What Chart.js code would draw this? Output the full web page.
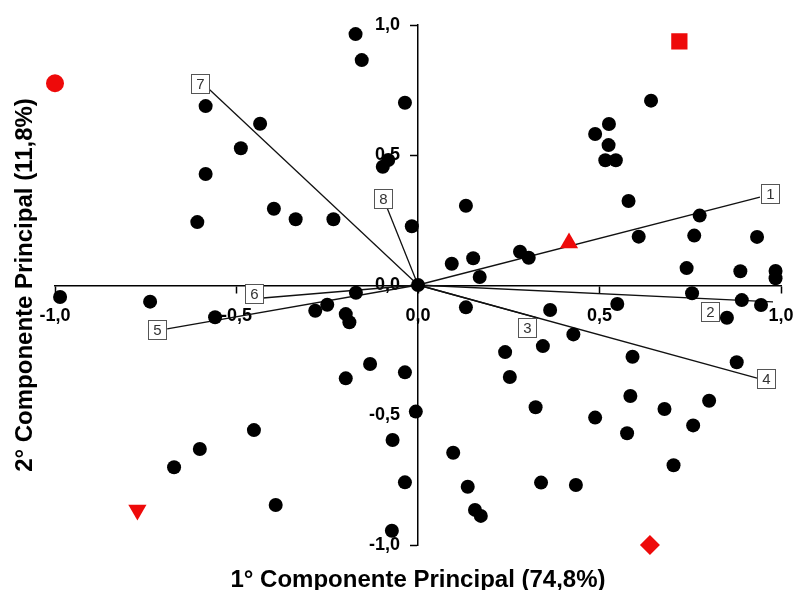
<!DOCTYPE html>
<html>
  <head>
    <title>Componentes Principais</title>
    <script src="https://cdn.jsdelivr.net/npm/chart.js"></script>
    <style>
      body { margin: 0; background: #fff; }
    </style>
  </head>
  <body>
    <canvas id="myChart" width="795" height="590"></canvas>
    <script>
      // scores of the observations (black dots)
      const scoreX = [
        -0.172, -0.155, -0.585, -0.435, -0.488, -0.585, -0.608, -0.397, -0.337, -0.233,
        -0.097, -0.082, -0.036, -0.017, -0.171, -0.986, -0.738,
        0.642, 0.526, 0.488, 0.525, 0.516, 0.545, 0.580, 0.776, 0.608, 0.761, 0.934,
        0.132, 0.093, 0.152, 0.170, 0.281, 0.305, 0.740, 0.888, 0.985, 0.985,
        0.755, 0.892, 0.945, 0.549, 0.851, 0.132, 0.364, 0.428, 0.344, 0.240, 0.253,
        0.591, 0.878, 0.324, 0.488, 0.585, 0.576, 0.679, 0.758, 0.802, 0.704,
        0.097, 0.137, 0.157, 0.173, 0.339, 0.435, -0.036, -0.006, -0.036,
        -0.559, -0.283, -0.250, -0.199, -0.189, -0.132, -0.199, -0.452, -0.601, -0.672,
        -0.392, -0.070, -0.072, 0.0
      ];
      const scoreY = [
        0.965, 0.865, 0.688, 0.620, 0.526, 0.427, 0.242, 0.293, 0.253, 0.253,
        0.455, 0.481, 0.701, 0.226, -0.030, -0.046, -0.064,
        0.709, 0.619, 0.581, 0.538, 0.480, 0.480, 0.323, 0.267, 0.186, 0.190, 0.185,
        0.305, 0.082, 0.103, 0.031, 0.128, 0.105, 0.065, 0.053, 0.054, 0.026,
        -0.032, -0.058, -0.077, -0.073, -0.126, -0.086, -0.096, -0.190, -0.235, -0.258, -0.354,
        -0.276, -0.297, -0.470, -0.510, -0.427, -0.570, -0.477, -0.540, -0.445, -0.693,
        -0.645, -0.776, -0.865, -0.888, -0.760, -0.769, -0.336, -0.487, -0.759,
        -0.124, -0.099, -0.076, -0.112, -0.143, -0.304, -0.359, -0.558, -0.631, -0.701,
        -0.846, -0.596, -0.945, 0.0
      ];

      // red group markers
      const groupX = [-1.0, 0.72, 0.416, -0.773, 0.639];
      const groupY = [0.776, 0.937, 0.162, -0.865, -1.0];
      const groupShapes = ["circle", "rect", "triangle", "triangle", "rectRot"];

      // variable vectors
      const vectorLabels = ["1", "2", "3", "4", "5", "6", "7", "8"];
      const vectorX = [0.942, 0.978, 0.331, 0.934, -0.691, -0.427, -0.579, -0.085];
      const vectorY = [0.338, -0.065, -0.127, -0.358, -0.169, -0.05, 0.758, 0.296];

      const tickValues = [-1, -0.5, 0, 0.5, 1];
      const xTitle = "1° Componente Principal (74,8%)";
      const yTitle = "2° Componente Principal (11,8%)";

      // where each numbered box sits relative to the end of its vector (px)
      const boxOffsets = [[10, -3], [-63, 10], [-11, 10], [9, 1], [-10, 1], [-9, -4], [-8, -4], [-4, -9]];

      const FONT = "'Liberation Sans', Arial, sans-serif";
      Chart.defaults.font.family = FONT;
      Chart.defaults.color = "#000";

      const fmt = (v) => v.toFixed(1).replace(".", ",");

      const axisTitles = {
        id: "axisTitles",
        afterDraw(chart) {
          const { ctx, scales } = chart;
          ctx.save();
          ctx.fillStyle = "#000";
          ctx.font = "bold 24px " + FONT;
          ctx.textAlign = "center";
          ctx.textBaseline = "alphabetic";
          ctx.fillText(xTitle, scales.x.getPixelForValue(0), 587);
          ctx.translate(32, scales.y.getPixelForValue(0));
          ctx.rotate(-Math.PI / 2);
          ctx.fillText(yTitle, 0, 0);
          ctx.restore();
        },
      };

      const vectorBoxes = {
        id: "vectorBoxes",
        afterDatasetsDraw(chart) {
          const { ctx, scales } = chart;
          ctx.save();
          ctx.font = "15px " + FONT;
          ctx.textAlign = "center";
          ctx.textBaseline = "middle";
          vectorLabels.forEach((lab, i) => {
            const cx = Math.round(scales.x.getPixelForValue(vectorX[i]) + boxOffsets[i][0]);
            const cy = Math.round(scales.y.getPixelForValue(vectorY[i]) + boxOffsets[i][1]);
            ctx.fillStyle = "#fff";
            ctx.fillRect(cx - 9, cy - 10, 19, 20);
            ctx.strokeStyle = "#555";
            ctx.lineWidth = 1;
            ctx.strokeRect(cx - 9 + 0.5, cy - 10 + 0.5, 18, 19);
            ctx.fillStyle = "#333";
            ctx.fillText(lab, cx + 0.5, cy + 1);
          });
          ctx.restore();
        },
      };

      const dots = scoreX.map((v, i) => ({ x: v, y: scoreY[i] }));
      const groups = groupX.map((v, i) => ({ x: v, y: groupY[i] }));

      const vectorSets = vectorLabels.map((lab, i) => ({
        label: "Variável " + lab,
        data: [{ x: 0, y: 0 }, { x: vectorX[i], y: vectorY[i] }],
        showLine: true,
        borderColor: "#111",
        borderWidth: 1.3,
        pointRadius: 0,
        clip: false,
      }));

      // keep the axis labels from shrinking the plot area
      const noPadding = (s) => {
        s.paddingLeft = 0;
        s.paddingRight = 0;
        s.paddingTop = 0;
        s.paddingBottom = 0;
      };

      const config = {
        type: "scatter",
        data: {
          datasets: [
            {
              label: "Grupos",
              data: groups,
              pointStyle: groupShapes,
              pointRotation: [0, 0, 0, 180, 0],
              pointRadius: [9, 11.5, 10.5, 10.5, 10],
              backgroundColor: "#ee0a0a",
              borderColor: "#ee0a0a",
              borderWidth: 0,
              clip: false,
            },
            {
              label: "Observações",
              data: dots,
              pointRadius: 7,
              backgroundColor: "#000",
              borderColor: "#000",
              borderWidth: 0,
              clip: false,
            },
            ...vectorSets,
          ],
        },
        options: {
          responsive: false,
          animation: false,
          layout: { padding: { left: 55, right: 14, top: 25, bottom: 45 } },
          plugins: {
            legend: { display: false },
            tooltip: { enabled: false },
          },
          scales: {
            x: {
              type: "linear",
              min: -1,
              max: 1,
              position: "center",
              afterBuildTicks: (s) => { s.ticks = tickValues.map((v) => ({ value: v })); },
              afterFit: noPadding,
              border: { display: true, color: "#000", width: 1.5 },
              grid: { drawOnChartArea: false, drawTicks: true, tickLength: 7, tickColor: "#000", tickWidth: 1.5 },
              ticks: { callback: fmt, font: { size: 18, weight: "bold" }, padding: 13, maxRotation: 0, color: "#000" },
            },
            y: {
              type: "linear",
              min: -1,
              max: 1,
              position: "center",
              afterBuildTicks: (s) => { s.ticks = tickValues.map((v) => ({ value: v })); },
              afterFit: noPadding,
              border: { display: true, color: "#000", width: 1.5 },
              grid: { drawOnChartArea: false, drawTicks: true, tickLength: 7, tickColor: "#000", tickWidth: 1.5 },
              ticks: { callback: fmt, font: { size: 18, weight: "bold" }, padding: 11, color: "#000" },
            },
          },
        },
        plugins: [axisTitles, vectorBoxes],
      };

      var myChart = new Chart(document.getElementById("myChart"), config);
    </script>
  </body>
</html>
